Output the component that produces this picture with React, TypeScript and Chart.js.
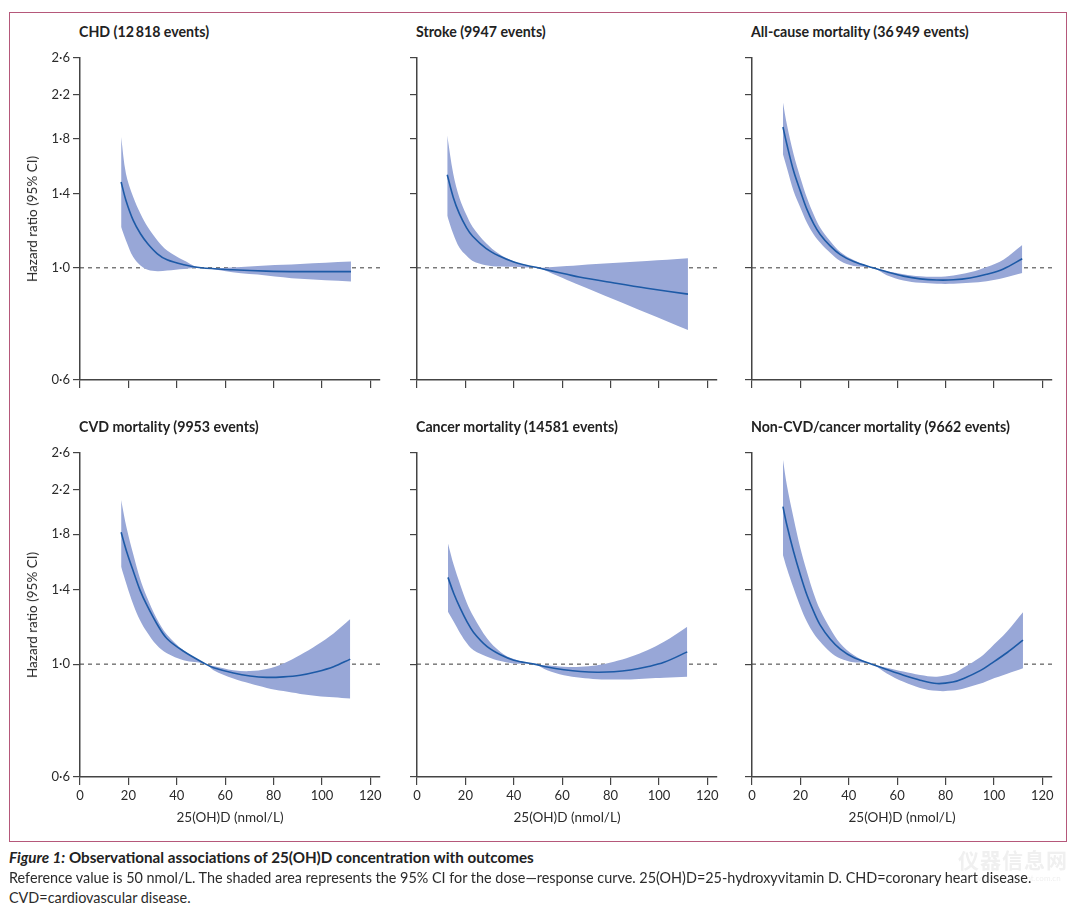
import React, { useEffect, useRef } from 'react';
import { Chart, registerables } from 'chart.js';

Chart.register(...registerables);

// ---------- data ----------
const xTickValues = [0, 20, 40, 60, 80, 100, 120];
const yTickValues = [0.6, 1.0, 1.4, 1.8, 2.2, 2.6];
const yTickLabels = ['0·6', '1·0', '1·4', '1·8', '2·2', '2·6'];
const xRange = [0, 124];
const yRange = [0.6, 2.6];
const referenceHR = 1.0;

const chdX = [17, 19, 22, 25, 28, 32, 36, 43, 50, 63, 77, 91, 112];
const chdHR = [1.478, 1.359, 1.241, 1.168, 1.116, 1.066, 1.037, 1.014, 1.0, 0.991, 0.985, 0.983, 0.983];
const chdHi = [1.814, 1.535, 1.38, 1.279, 1.204, 1.133, 1.082, 1.034, 1.0, 1.002, 1.011, 1.018, 1.029];
const chdLo = [1.204, 1.133, 1.05, 1.011, 0.991, 0.985, 0.988, 0.995, 1.0, 0.98, 0.966, 0.951, 0.94];

const strokeX = [12.5, 15, 17.5, 20.5, 23, 28.5, 34, 40, 45, 50, 56, 62, 67, 81, 95, 112];
const strokeHR = [1.528, 1.378, 1.28, 1.2, 1.155, 1.093, 1.055, 1.027, 1.012, 1.0, 0.985, 0.971, 0.959, 0.934, 0.911, 0.887];
const strokeHi = [1.826, 1.533, 1.378, 1.27, 1.205, 1.12, 1.065, 1.03, 1.01, 1.0, 1.004, 1.008, 1.012, 1.022, 1.032, 1.045];
const strokeLo = [1.268, 1.166, 1.097, 1.056, 1.032, 1.012, 1.006, 1.005, 1.002, 1.0, 0.973, 0.946, 0.925, 0.868, 0.814, 0.753];

const allX = [12.8, 14.4, 17.2, 20, 22.7, 25.5, 28.2, 32.3, 36.5, 42, 50, 55.7, 62.6, 69.5, 76.4, 83.3, 90.1, 97, 103.9, 111.7];
const allHR = [1.899, 1.755, 1.554, 1.418, 1.305, 1.222, 1.164, 1.105, 1.062, 1.029, 1.0, 0.982, 0.963, 0.951, 0.946, 0.947, 0.955, 0.971, 0.995, 1.042];
const allHi = [2.122, 1.922, 1.677, 1.507, 1.376, 1.275, 1.2, 1.13, 1.075, 1.036, 1.0, 0.986, 0.971, 0.962, 0.96, 0.966, 0.98, 1.004, 1.038, 1.109];
const allLo = [1.677, 1.578, 1.418, 1.315, 1.228, 1.164, 1.121, 1.071, 1.031, 1.008, 1.0, 0.967, 0.944, 0.934, 0.93, 0.93, 0.934, 0.941, 0.955, 0.977];

const cvdX = [17, 19.3, 22.1, 24.8, 27.6, 31.7, 35.9, 42.8, 52, 55.2, 63.4, 70.3, 77.2, 84.1, 91, 97.9, 104.8, 111.7];
const cvdHR = [1.816, 1.663, 1.519, 1.398, 1.307, 1.202, 1.123, 1.06, 1.0, 0.984, 0.961, 0.948, 0.942, 0.944, 0.951, 0.966, 0.988, 1.023];
const cvdHi = [2.102, 1.849, 1.638, 1.474, 1.357, 1.23, 1.144, 1.065, 1.0, 0.992, 0.973, 0.969, 0.978, 1.003, 1.042, 1.09, 1.149, 1.226];
const cvdLo = [1.554, 1.431, 1.307, 1.22, 1.158, 1.09, 1.05, 1.018, 1.0, 0.973, 0.937, 0.916, 0.898, 0.885, 0.874, 0.866, 0.861, 0.856];

const cancerX = [12.8, 15.2, 17.9, 20.7, 23.4, 29, 34.5, 40, 48.5, 53.8, 60.7, 67.6, 74.5, 81.4, 88.3, 95.2, 102.1, 111.7];
const cancerHR = [1.481, 1.377, 1.287, 1.211, 1.154, 1.082, 1.043, 1.018, 1.0, 0.987, 0.975, 0.967, 0.964, 0.966, 0.974, 0.988, 1.008, 1.057];
const cancerHi = [1.727, 1.566, 1.431, 1.316, 1.239, 1.123, 1.057, 1.023, 1.0, 0.995, 0.988, 0.988, 0.995, 1.011, 1.034, 1.065, 1.106, 1.184];
const cancerLo = [1.268, 1.211, 1.149, 1.098, 1.065, 1.034, 1.014, 1.003, 1.0, 0.973, 0.951, 0.94, 0.934, 0.933, 0.933, 0.937, 0.94, 0.944];

const otherX = [12.8, 14.4, 17.2, 20, 22.7, 25.5, 28.2, 32.3, 36.5, 42, 49.5, 55.7, 62.6, 69.5, 76.4, 83, 87.5, 94.5, 98.5, 105.5, 112];
const otherHR = [2.039, 1.877, 1.663, 1.497, 1.367, 1.268, 1.193, 1.12, 1.07, 1.03, 1.0, 0.976, 0.951, 0.93, 0.916, 0.922, 0.937, 0.972, 1.0, 1.054, 1.115];
const otherHi = [2.52, 2.25, 1.935, 1.689, 1.519, 1.377, 1.277, 1.175, 1.098, 1.042, 1.0, 0.984, 0.967, 0.952, 0.945, 0.958, 0.985, 1.033, 1.075, 1.16, 1.264];
const otherLo = [1.638, 1.543, 1.409, 1.297, 1.211, 1.149, 1.106, 1.057, 1.026, 1.008, 1.0, 0.959, 0.923, 0.898, 0.886, 0.887, 0.896, 0.916, 0.932, 0.957, 0.981];

const panelTitles = [
  'CHD (12\u2009818 events)',
  'Stroke (9947 events)',
  'All-cause mortality (36\u2009949 events)',
  'CVD mortality (9953 events)',
  'Cancer mortality (14581 events)',
  'Non-CVD/cancer mortality (9662 events)',
];
const yAxisTitle = 'Hazard ratio (95% CI)';
const xAxisTitle = '25(OH)D (nmol/L)';
const captionLabel = 'Figure 1:';
const captionTitle = 'Observational associations of 25(OH)D concentration with outcomes';
const captionLine1 = 'Reference value is 50 nmol/L. The shaded area represents the 95% CI for the dose\u2014response curve. 25(OH)D=25-hydroxyvitamin D. CHD=coronary heart disease.';
const captionLine2 = 'CVD=cardiovascular disease.';

// ---------- style ----------
const FONT = 'Lato, "Open Sans", sans-serif';
const FILL = '#98a7d7';
const LINE = '#1d5aa6';
const AXIS = '#444444';
const TEXT = '#2b2b2b';
const TENSION = 0.35;

type PanelProps = {
  xs: number[]; hr: number[]; lo: number[]; hi: number[];
  left: number; top: number; plotH: number;
  showX: boolean; showY: boolean;
};

const PAD_L = 60, PAD_T = 15, PAD_R = 25, PAD_B = 50, PLOT_W = 300;

function Panel({ xs, hr, lo, hi, left, top, plotH, showX, showY }: PanelProps) {
  const ref = useRef<HTMLCanvasElement | null>(null);
  useEffect(() => {
    if (!ref.current) return;
    const pts = (ys: number[]) => xs.map((x, i) => ({ x, y: ys[i] }));
    const chart = new Chart(ref.current, {
      type: 'line',
      data: {
        datasets: [
          { data: pts(hr), borderColor: LINE, borderWidth: 1.6, pointRadius: 0, fill: false, order: 0, tension: TENSION } as any,
          { data: pts(hi), borderColor: 'rgba(0,0,0,0)', borderWidth: 0, backgroundColor: FILL, fill: '+1', pointRadius: 0, order: 1, tension: TENSION } as any,
          { data: pts(lo), borderColor: 'rgba(0,0,0,0)', borderWidth: 0, fill: false, pointRadius: 0, order: 1, tension: TENSION } as any,
          { data: [{ x: xRange[0], y: referenceHR }, { x: xRange[1], y: referenceHR }], borderColor: '#3a3a3a', borderWidth: 1, borderDash: [4, 4], pointRadius: 0, fill: false, order: 2 } as any,
        ],
      },
      options: {
        animation: false,
        responsive: false,
        maintainAspectRatio: false,
        devicePixelRatio: 1,
        events: [],
        layout: { padding: { left: 0, top: PAD_T, right: PAD_R, bottom: 0 } },
        plugins: { legend: { display: false }, tooltip: { enabled: false }, title: { display: false } },
        scales: {
          x: {
            type: 'linear',
            min: xRange[0],
            max: xRange[1],
            afterBuildTicks: (s: any) => { s.ticks = xTickValues.map((v) => ({ value: v })); },
            afterFit: (s: any) => { s.height = PAD_B; },
            ticks: { display: showX, autoSkip: false, maxRotation: 0, padding: 3, color: TEXT, font: { family: FONT, size: 13 } },
            grid: { display: true, drawOnChartArea: false, drawTicks: true, tickLength: 8, color: AXIS, lineWidth: 1.2 },
            border: { display: true, color: AXIS, width: 1.5 },
          },
          y: {
            type: 'logarithmic',
            min: yRange[0],
            max: yRange[1],
            afterBuildTicks: (s: any) => { s.ticks = yTickValues.map((v) => ({ value: v })); },
            afterFit: (s: any) => { s.width = PAD_L; },
            ticks: {
              display: showY, autoSkip: false, padding: 3, color: TEXT, font: { family: FONT, size: 13 },
              callback: (v: any) => { const i = yTickValues.findIndex((t) => Math.abs(t - Number(v)) < 1e-6); return i >= 0 ? yTickLabels[i] : ''; },
            },
            grid: { display: true, drawOnChartArea: false, drawTicks: true, tickLength: 7, color: AXIS, lineWidth: 1.2 },
            border: { display: true, color: AXIS, width: 1.5 },
          },
        },
      } as any,
    });
    return () => chart.destroy();
  }, [xs, hr, lo, hi, showX, showY]);
  const w = PAD_L + PLOT_W + PAD_R;
  const h = PAD_T + plotH + PAD_B;
  return (
    <canvas
      ref={ref}
      width={w}
      height={h}
      style={{ position: 'absolute', left: left - PAD_L, top: top - PAD_T, width: w, height: h }}
    />
  );
}

const colX = [80, 417, 752];
const rows = [
  { top: 58, h: 322, titleY: 32 },
  { top: 453, h: 324, titleY: 427 },
];

const panelData = [
  { xs: chdX, hr: chdHR, lo: chdLo, hi: chdHi },
  { xs: strokeX, hr: strokeHR, lo: strokeLo, hi: strokeHi },
  { xs: allX, hr: allHR, lo: allLo, hi: allHi },
  { xs: cvdX, hr: cvdHR, lo: cvdLo, hi: cvdHi },
  { xs: cancerX, hr: cancerHR, lo: cancerLo, hi: cancerHi },
  { xs: otherX, hr: otherHR, lo: otherLo, hi: otherHi },
];

export default function App() {
  return (
    <div style={{ position: 'absolute', left: 0, top: 0, width: 1080, height: 912, background: '#fff', overflow: 'hidden', fontFamily: FONT, color: TEXT }}>
      <div style={{ position: 'absolute', left: 9, top: 12, width: 1058, height: 830, border: '1px solid #b5587a', boxSizing: 'border-box' }} />
      {panelData.map((d, i) => {
        const r = Math.floor(i / 3);
        const c = i % 3;
        const row = rows[r];
        return (
          <React.Fragment key={i}>
            <div style={{ position: 'absolute', left: colX[c] - 1, top: row.titleY - 10, height: 20, lineHeight: '20px', fontSize: 14.2, fontWeight: 700, whiteSpace: 'nowrap', color: '#222' }}>
              {panelTitles[i]}
            </div>
            <Panel {...d} left={colX[c]} top={row.top} plotH={row.h} showX={r === 1} showY={c === 0} />
            {c === 0 && (
              <div style={{ position: 'absolute', left: 32, top: row.top + row.h / 2, transform: 'translate(-50%, -50%) rotate(-90deg)', fontSize: 13.5, whiteSpace: 'nowrap', lineHeight: '18px' }}>
                {yAxisTitle}
              </div>
            )}
            {r === 1 && (
              <div style={{ position: 'absolute', left: colX[c] + PLOT_W / 2, top: 817, transform: 'translate(-50%, -50%)', fontSize: 13.5, whiteSpace: 'nowrap', lineHeight: '18px' }}>
                {xAxisTitle}
              </div>
            )}
          </React.Fragment>
        );
      })}
      <div style={{ position: 'absolute', left: 958, top: 846, fontSize: 21, lineHeight: '26px', fontWeight: 700, color: '#f0f0f0', whiteSpace: 'nowrap', fontFamily: '"Noto Sans CJK SC", sans-serif', letterSpacing: 1 }}>仪器信息网</div>
      <div style={{ position: 'absolute', left: 975, top: 873, fontSize: 8, color: '#f0f0f0', whiteSpace: 'nowrap' }}>www.instrument.com.cn</div>
      <div style={{ position: 'absolute', left: 9, top: 848, fontSize: 15.2, lineHeight: '18px', whiteSpace: 'nowrap', fontWeight: 700, color: '#222' }}>
        <i>{captionLabel}</i> {captionTitle}
      </div>
      <div style={{ position: 'absolute', left: 9, top: 869, fontSize: 14.4, lineHeight: '18px', whiteSpace: 'nowrap' }}>{captionLine1}</div>
      <div style={{ position: 'absolute', left: 9, top: 889, fontSize: 14.4, lineHeight: '18px', whiteSpace: 'nowrap' }}>{captionLine2}</div>
    </div>
  );
}
